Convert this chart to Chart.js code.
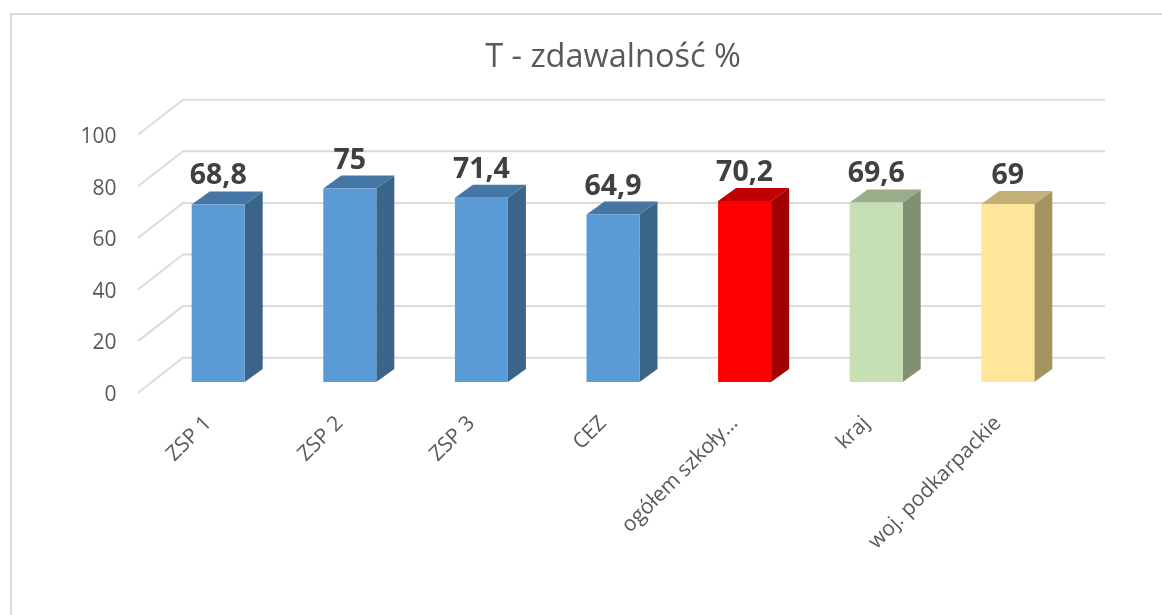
<!DOCTYPE html>
<html>
<head>
<meta charset="utf-8">
<title>T - zdawalność %</title>
<script src="https://cdn.jsdelivr.net/npm/chart.js@4"></script>
<style>
  html, body { margin: 0; background: #fff; }
  #frame { position: absolute; left: 10px; top: 13px; right: 0; bottom: 0;
           border-top: 2px solid #d9d9d9; border-left: 2px solid #d9d9d9; }
  canvas { position: absolute; left: 0; top: 0; }
</style>
</head>
<body>
<div id="frame"></div>
<canvas id="chart1" width="1162" height="615"></canvas>
<script>
const categories = ["ZSP 1", "ZSP 2", "ZSP 3", "CEZ", "ogółem szkoły…", "kraj", "woj. podkarpackie"];
const values = [68.8, 75, 71.4, 64.9, 70.2, 69.6, 69];
const valueLabels = ["68,8", "75", "71,4", "64,9", "70,2", "69,6", "69"];
const yTicks = [0, 20, 40, 60, 80, 100];

const frontColors = ["#5b9bd5", "#5b9bd5", "#5b9bd5", "#5b9bd5", "#ff0000", "#c6e0b4", "#ffe699"];
const sideColors = ["#3a6488", "#3a6488", "#3a6488", "#3a6488", "#a00000", "#7f9172", "#a39460"];
const topColors = ["#4676a3", "#4676a3", "#4676a3", "#4676a3", "#c00000", "#9aad8b", "#c2b077"];

const FONT = '"Open Sans", sans-serif';
const DEPTH_X = 18;
const DEPTH_Y = 13;

function face(ctx, points, color) {
  ctx.fillStyle = color;
  ctx.beginPath();
  points.forEach((p, i) => (i ? ctx.lineTo(p[0], p[1]) : ctx.moveTo(p[0], p[1])));
  ctx.closePath();
  ctx.fill();
}

const fake3d = {
  id: "fake3d",
  // walls first, then the side and top of each bar
  beforeDatasetsDraw(chart) {
    const ctx = chart.ctx;
    const y = chart.scales.y;
    ctx.save();
    ctx.strokeStyle = "#dcdcdc";
    ctx.lineWidth = 2;
    yTicks.forEach((t) => {
      const py = y.getPixelForValue(t);
      ctx.beginPath();
      ctx.moveTo(138, py + 10.7);
      ctx.lineTo(183, py - 24.3);
      ctx.lineTo(1105, py - 24.3);
      ctx.stroke();
    });
    chart.getDatasetMeta(0).data.forEach((bar, i) => {
      const left = bar.x - bar.width / 2;
      const right = bar.x + bar.width / 2;
      face(ctx, [[right, bar.y], [right + DEPTH_X, bar.y - DEPTH_Y], [right + DEPTH_X, bar.base - DEPTH_Y], [right, bar.base]], sideColors[i]);
      face(ctx, [[left, bar.y], [left + DEPTH_X, bar.y - DEPTH_Y], [right + DEPTH_X, bar.y - DEPTH_Y], [right, bar.y]], topColors[i]);
    });
    ctx.restore();
  },
  afterDatasetsDraw(chart) {
    const ctx = chart.ctx;
    ctx.save();
    ctx.font = "bold 28.5px " + FONT;
    ctx.fillStyle = "#404040";
    ctx.textAlign = "center";
    ctx.textBaseline = "alphabetic";
    chart.getDatasetMeta(0).data.forEach((bar, i) => {
      ctx.fillText(valueLabels[i], bar.x, bar.y - 20);
    });
    ctx.restore();
  },
};

new Chart("chart1", {
  type: "bar",
  data: {
    labels: categories,
    datasets: [
      {
        label: "T - zdawalność %",
        data: values,
        backgroundColor: frontColors,
        barPercentage: 0.403,
        categoryPercentage: 1,
      },
    ],
  },
  plugins: [fake3d],
  options: {
    responsive: false,
    animation: false,
    layout: { padding: { right: 88.4 } },
    plugins: {
      legend: { display: false },
      title: {
        display: true,
        text: "T - zdawalność %",
        fullSize: false,
        color: "#595959",
        font: { family: FONT, size: 32.5, weight: "normal" },
        padding: { top: 38, bottom: 47 },
      },
    },
    scales: {
      x: {
        grid: { display: false },
        border: { display: false },
        afterFit(scale) { scale.height = 233; },
        ticks: {
          autoSkip: false,
          minRotation: 45,
          maxRotation: 45,
          padding: 21,
          labelOffset: -10,
          color: "#595959",
          font: { family: FONT, size: 21 },
        },
      },
      y: {
        min: 0,
        max: 100,
        grid: { display: false },
        border: { display: false },
        afterFit(scale) { scale.width = 152.4; },
        ticks: {
          stepSize: 20,
          padding: 28,
          labelOffset: 13,
          color: "#595959",
          font: { family: FONT, size: 21 },
        },
      },
    },
  },
});
</script>
</body>
</html>
